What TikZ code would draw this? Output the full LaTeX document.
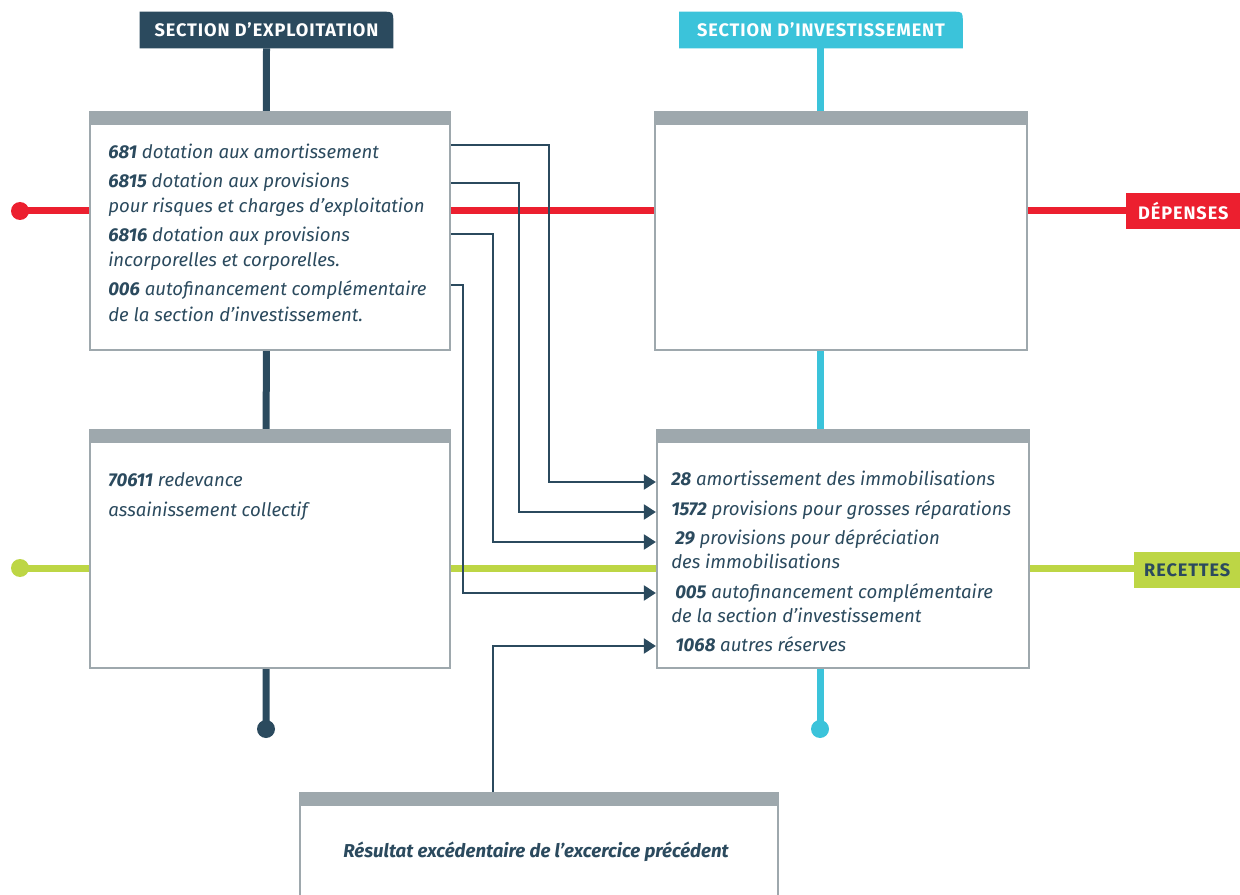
\documentclass[tikz,border=0pt]{standalone}
\usepackage{fontspec}
\setmainfont{Fira Sans}
\newfontfamily\spacedfam[LetterSpace=5]{Fira Sans}
\usetikzlibrary{arrows.meta,backgrounds}

\definecolor{navy}{HTML}{2B4A5E}
\definecolor{teal}{HTML}{3BC3DA}
\definecolor{crimson}{HTML}{EC1F2F}
\definecolor{lime}{HTML}{BDD645}
\definecolor{frame}{HTML}{9EA8AD}

\newcommand\bodyfont{\fontsize{13.95}{16}\selectfont\itshape}
\newcommand\headfont{\spacedfam\fontsize{13.6}{15}\selectfont\bfseries}

\begin{document}
\begin{tikzpicture}[x=0.75pt,y=-0.75pt,
  bar/.style={line width=5.25pt},
  panel/.style={draw=frame, line width=1.6pt, fill=white, inner sep=0pt},
  flow/.style={draw=navy, line width=2.2pt, -{Triangle[length=9pt,width=11pt]}},
  txt/.style={anchor=base west, inner sep=0pt, text=navy, font=\bodyfont},
  tabtext/.style={text=white, font=\headfont, inner sep=0pt, minimum height=27pt},
  dot/.style={circle, inner sep=0pt, minimum size=13.5pt},
  tag/.style={font=\headfont, inner sep=0pt, minimum height=26.5pt, anchor=west},
]
\clip (0,0) rectangle (1240,895);

% section titles
\node[tabtext, minimum width=189.75pt] (expl) at (266.5,30) {SECTION D’EXPLOITATION};
\node[tabtext, minimum width=212.25pt] (inv) at (821,30) {SECTION D’INVESTISSEMENT};
\begin{scope}[on background layer]
  \fill[navy] (expl.south west) -- (expl.north west) -- ([xshift=-7.5pt]expl.north east)
    .. controls (expl.north east) .. ([yshift=-7.5pt]expl.north east) -- (expl.south east) -- cycle;
  \fill[teal] (inv.south west) -- (inv.north west) -- ([xshift=-7.5pt]inv.north east)
    .. controls (inv.north east) .. ([yshift=-7.5pt]inv.north east) -- (inv.south east) -- cycle;
\end{scope}

% line ends and side tags
\node[dot, fill=crimson] (dred) at (20,211) {};
\node[dot, fill=lime] (dgreen) at (20,568) {};
\node[dot, fill=navy] (dnavy) at (266,729) {};
\node[dot, fill=teal] (dteal) at (820,729) {};
\node[tag, fill=crimson, text=white, minimum width=85.5pt] (dep) at (1126,211) {DÉPENSES};
\node[tag, fill=lime, text=navy, minimum width=79.5pt] (rec) at (1134,570) {RECETTES};

% main lines
\draw[bar, crimson] (dred.center) -- (dep.west |- dred.center);
\draw[bar, lime] (dgreen.center) -- (rec.west |- dgreen.center);
\draw[bar, navy] (expl.south) -- (dnavy.center);
\draw[bar, teal] (inv.south -| dteal.center) -- (dteal.center);

% panels
\node[panel, minimum width=270pt, minimum height=178.5pt] (expl1) at (270,231) {};
\node[panel, minimum width=279pt, minimum height=178.5pt] (inv1) at (841,231) {};
\node[panel, minimum width=270pt, minimum height=178.5pt] (expl2) at (270,549) {};
\node[panel, minimum width=279pt, minimum height=178.5pt] (inv2) at (843,549) {};
\node[panel, minimum width=358.5pt, minimum height=84pt] (res) at (539,849) {};
\foreach \b/\w in {expl1/360, inv1/372, expl2/360, inv2/372, res/478}
  \fill[frame] (\b.north west) rectangle ++(\w,14);

% transfers between sections
\draw[flow] (expl1.east |- 0,145) -| (549,482) -- (inv2.west |- 0,482);
\draw[flow] (expl1.east |- 0,183) -| (519,512) -- (inv2.west |- 0,512);
\draw[flow] (expl1.east |- 0,234) -| (493,542) -- (inv2.west |- 0,542);
\draw[flow] (expl1.east |- 0,285) -| (463,593) -- (inv2.west |- 0,593);
\draw[flow] (res.north -| 493,0) |- (inv2.west |- 0,646);

% operating section, expenses
\node[txt] (e1) at (108,159) {\textbf{681} dotation aux amortissement};
\node[txt] (e2) at (108,188) {\textbf{6815} dotation aux provisions};
\node[txt] (e2b) at (108,213) {pour risques et charges d’exploitation};
\node[txt] (e3) at (108,242) {\textbf{6816} dotation aux provisions};
\node[txt] (e3b) at (108,267) {incorporelles et corporelles.};
\node[txt] (e4) at (108,296) {\textbf{006} autofinancement complémentaire};
\node[txt] (e4b) at (108,321) {de la section d’investissement.};

% operating section, revenue
\node[txt] (r1) at (108,486) {\textbf{70611} redevance};
\node[txt] (r1b) at (108,516) {assainissement collectif};

% investment section, revenue
\node[txt] (i1) at (671,485) {\textbf{28} amortissement des immobilisations};
\node[txt] (i2) at (671,515) {\textbf{1572} provisions pour grosses réparations};
\node[txt] (i3) at (675,544) {\textbf{29} provisions pour dépréciation};
\node[txt] (i3b) at (671,568) {des immobilisations};
\node[txt] (i4) at (675,598) {\textbf{005} autofinancement complémentaire};
\node[txt] (i4b) at (671,622) {de la section d’investissement};
\node[txt] (i5) at (675,651) {\textbf{1068} autres réserves};

% previous year
\node[txt, anchor=base, font=\fontsize{14}{16}\selectfont\bfseries\itshape] (restext) at (536,857)
  {Résultat excédentaire de l’excercice précédent};
\end{tikzpicture}
\end{document}
